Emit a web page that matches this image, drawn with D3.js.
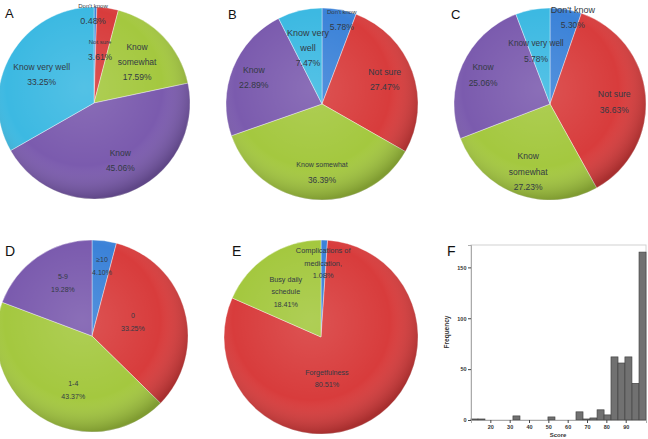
<!DOCTYPE html>
<html>
<head>
<meta charset="utf-8">
<script src="https://cdn.jsdelivr.net/npm/d3@7"></script>
<style>
body{margin:0;background:#fff}
svg{display:block;font-family:"Liberation Sans",Arial,sans-serif}
</style>
</head>
<body>
<script>
//pie data (percent)
var knowCats = ["Don't know", "Not sure", "Know somewhat", "Know", "Know very well"];
var panelAValues = [0.48, 3.61, 17.59, 45.06, 33.25];
var panelBValues = [5.78, 27.47, 36.39, 22.89, 7.47];
var panelCValues = [5.30, 36.63, 27.23, 25.06, 5.78];
var visitCats = ["≥10", "0", "1-4", "5-9"];
var panelDValues = [4.10, 33.25, 43.37, 19.28];
var reasonCats = ["Complications of medication,", "Forgetfulness", "Busy daily schedule"];
var panelEValues = [1.08, 80.51, 18.41];

//histogram data (panel F)
var scoreBinStart = [10, 13.6, 31.7, 49.8, 64.3, 67.9, 71.5, 75.2, 78.8, 82.4, 86.0, 89.6, 93.3, 96.9];
var scoreFreq = [1, 1, 4, 3, 8, 1, 2, 10, 5, 62, 56, 62, 36, 165];
var scoreBinWidth = 3.62;
var scoreTicks = [20, 30, 40, 50, 60, 70, 80, 90];
var freqTicks = [0, 50, 100, 150];

var sliceColors = ["#3b82d8", "#d83c3c", "#a4c83f", "#7b5bae", "#3cb9e2"];

var width = 648, height = 439;

var svg = d3.select("body").append("svg")
    .attr("width", width)
    .attr("height", height);

//soft rim shading like the excel pies
var defs = svg.append("defs");
var grad = defs.append("radialGradient").attr("id", "shade")
    .attr("cx", "45%").attr("cy", "42%").attr("r", "58%");
grad.append("stop").attr("offset", "0%").attr("stop-color", "#fff").attr("stop-opacity", 0.12);
grad.append("stop").attr("offset", "70%").attr("stop-color", "#fff").attr("stop-opacity", 0);
grad.append("stop").attr("offset", "100%").attr("stop-color", "#000").attr("stop-opacity", 0.22);

//layout of each pie and its labels (rf = radius fraction, da = angle nudge in degrees)
var pies = [
    {cx: 94, cy: 103, r: 96, values: panelAValues, cats: knowCats, lh: 15, labels: [
        {lines: ["Don't know"], fs: [6, 9], rf: 0.93, da: -1.5},
        {lines: ["Not sure"], fs: [6, 8.5], rf: 0.56, da: -1.7},
        {lines: ["Know", "somewhat"], fs: [8.5, 8.5], rf: 0.62, da: 0},
        {lines: ["Know"], fs: [8.5, 8.5], rf: 0.66, da: -3.7},
        {lines: ["Know very well"], fs: [8.5, 8.5], rf: 0.62, da: -1.7}]},
    {cx: 322, cy: 104, r: 96, values: panelBValues, cats: knowCats, lh: 15, labels: [
        {lines: ["Don't know"], fs: [6, 8.5], rf: 0.9, da: 2.8},
        {lines: ["Not sure"], fs: [8.7, 8.7], rf: 0.70, da: -1.2},
        {lines: ["Know somewhat"], fs: [7, 8.3], rf: 0.71, da: -5.2},
        {lines: ["Know"], fs: [8.7, 8.7], rf: 0.76, da: -1},
        {lines: ["Know very", "well"], fs: [9, 8.7], rf: 0.60, da: -0.6}]},
    {cx: 550, cy: 104, r: 96, values: panelCValues, cats: knowCats, lh: 15.5, labels: [
        {lines: ["Don't know"], fs: [9, 8.5], rf: 0.93, da: 5.3},
        {lines: ["Not sure"], fs: [8.7, 8.5], rf: 0.67, da: 3.2},
        {lines: ["Know", "somewhat"], fs: [8.5, 8.5], rf: 0.74, da: -2.1},
        {lines: ["Know"], fs: [8.5, 8.5], rf: 0.76, da: -0.7},
        {lines: ["Know very well"], fs: [8.3, 8.5], rf: 0.57, da: -4.4}]},
    {cx: 92, cy: 336, r: 96, values: panelDValues, cats: visitCats, lh: 13, labels: [
        {lines: ["≥10"], fs: [7, 7], rf: 0.74, da: 0.7},
        {lines: ["0"], fs: [7, 7], rf: 0.45, da: -3.5},
        {lines: ["1-4"], fs: [7, 7], rf: 0.60, da: -13.5},
        {lines: ["5-9"], fs: [7, 7], rf: 0.63, da: 6}]},
    {cx: 321, cy: 337, r: 97, values: panelEValues, cats: reasonCats, lh: 12.5, labels: [
        {lines: ["Complications of", "medication,"], fs: [7.4, 7.4], rf: 0.76, da: -0.3},
        {lines: ["Forgetfulness"], fs: [7.2, 7.2], rf: 0.43, da: 23},
        {lines: ["Busy daily", "schedule"], fs: [7.2, 7.2], rf: 0.59, da: -4.8}]}
];

var pie = d3.pie().sort(null).value(function(d){ return d; });

pies.forEach(function(p){
    var g = svg.append("g").attr("transform", "translate(" + p.cx + "," + p.cy + ")");
    var arc = d3.arc().innerRadius(0).outerRadius(p.r);
    var arcs = pie(p.values);

    g.selectAll(".slice")
        .data(arcs)
        .enter()
        .append("path")
        .attr("class", "slice")
        .attr("d", arc)
        .attr("fill", function(d, i){ return sliceColors[i]; })
        .attr("stroke", "rgba(255,255,255,0.55)")
        .attr("stroke-width", 0.7);

    g.append("circle").attr("r", p.r).attr("fill", "url(#shade)");

    //labels
    arcs.forEach(function(a, i){
        var lab = p.labels[i];
        var ang = (a.startAngle + a.endAngle) / 2 + lab.da * Math.PI / 180;
        var px = Math.sin(ang) * p.r * lab.rf,
            py = -Math.cos(ang) * p.r * lab.rf;
        var lines = lab.lines.concat([d3.format(".2f")(p.values[i]) + "%"]);
        var n = lines.length;
        lines.forEach(function(t, j){
            g.append("text")
                .attr("x", px)
                .attr("y", py + (j - (n - 1) / 2) * p.lh)
                .attr("text-anchor", "middle")
                .attr("dominant-baseline", "central")
                .attr("font-size", (j == n - 1 ? lab.fs[1] : lab.fs[0]) + "px")
                .attr("fill", "#333a44")
                .text(t);
        });
    });
});

//panel letters
var letters = [["A", 5, 18, 13], ["B", 228, 19, 13], ["C", 451, 19, 13],
               ["D", 5, 256, 14], ["E", 232, 256, 14], ["F", 447, 256, 14]];
svg.selectAll(".letter")
    .data(letters)
    .enter()
    .append("text")
    .attr("class", "letter")
    .attr("x", function(d){ return d[1]; })
    .attr("y", function(d){ return d[2]; })
    .attr("font-size", function(d){ return d[3] + "px"; })
    .attr("fill", "#111")
    .text(function(d){ return d[0]; });

//histogram F
var hx = d3.scaleLinear().domain([10, 100.5]).range([471, 646]);
var hy = d3.scaleLinear().domain([0, 172]).range([420, 245]);

svg.append("rect")
    .attr("x", hx(10)).attr("y", hy(172))
    .attr("width", hx(100.5) - hx(10)).attr("height", hy(0) - hy(172))
    .attr("fill", "none").attr("stroke", "#d2d2d2").attr("stroke-width", 1);

svg.selectAll(".bar")
    .data(scoreFreq)
    .enter()
    .append("rect")
    .attr("class", "bar")
    .attr("x", function(d, i){ return hx(scoreBinStart[i]); })
    .attr("width", function(d, i){ return hx(scoreBinStart[i] + scoreBinWidth) - hx(scoreBinStart[i]); })
    .attr("y", function(d){ return hy(d); })
    .attr("height", function(d){ return hy(0) - hy(d); })
    .attr("fill", "#717171")
    .attr("stroke", "#444")
    .attr("stroke-width", 0.7);

var yAxis = svg.append("g")
    .attr("transform", "translate(471,0)")
    .call(d3.axisLeft(hy).tickValues(freqTicks).tickSize(3).tickPadding(1.5));
var xAxis = svg.append("g")
    .attr("transform", "translate(0,420)")
    .call(d3.axisBottom(hx).tickValues(scoreTicks).tickSize(3).tickPadding(2));

[yAxis, xAxis].forEach(function(ax){
    ax.select(".domain").attr("stroke", "#999").attr("stroke-width", 0.8);
    ax.selectAll(".tick line").attr("stroke", "#444");
    ax.selectAll("text")
        .attr("font-size", "5.5px")
        .attr("font-weight", "bold")
        .attr("fill", "#333");
});

svg.append("text")
    .attr("transform", "translate(449,332) rotate(-90)")
    .attr("text-anchor", "middle")
    .attr("font-size", "6.5px")
    .attr("font-weight", "bold")
    .attr("fill", "#333")
    .text("Frequency");

svg.append("text")
    .attr("x", 558).attr("y", 432.5)
    .attr("text-anchor", "middle")
    .attr("dominant-baseline", "hanging")
    .attr("font-size", "6px")
    .attr("font-weight", "bold")
    .attr("fill", "#333")
    .text("Score");
</script>
</body>
</html>
